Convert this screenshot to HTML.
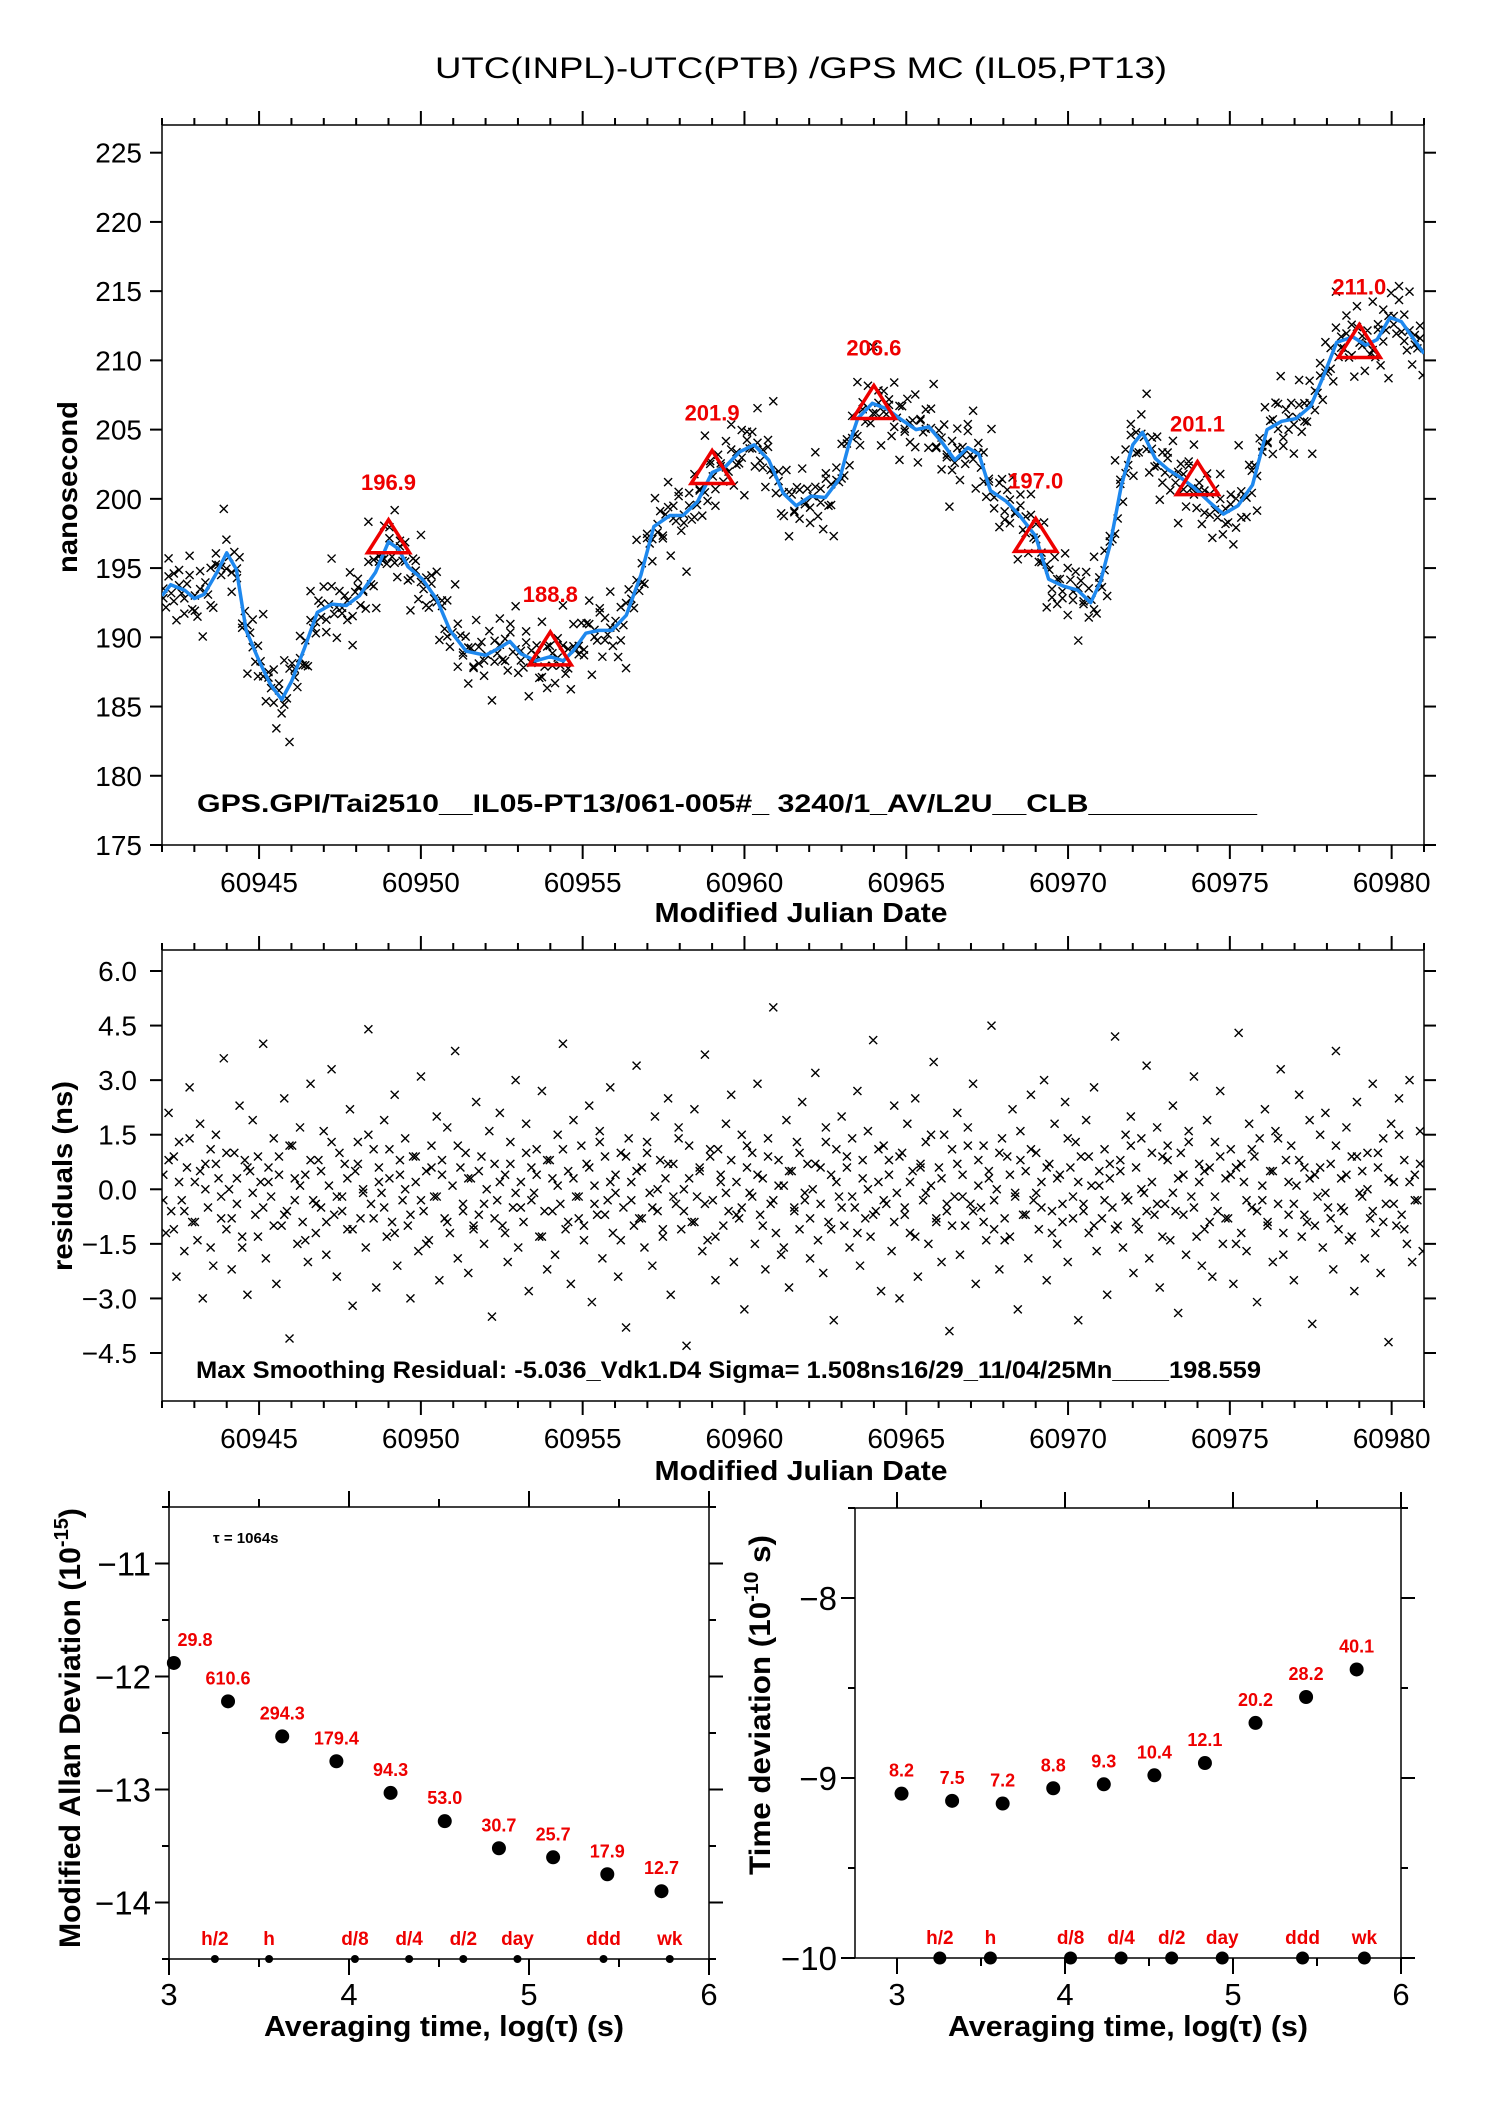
<!DOCTYPE html>
<html><head><meta charset="utf-8">
<style>
html,body{margin:0;padding:0;background:#fff;}
svg{display:block;font-family:"Liberation Sans",Arial,sans-serif;}
</style></head>
<body>
<svg id="chart" xmlns="http://www.w3.org/2000/svg" width="1488" height="2105" viewBox="0 0 1488 2105">
<rect x="0" y="0" width="1488" height="2105" fill="#fff"/>
<text x="801" y="78" font-size="30" text-anchor="middle" textLength="732" lengthAdjust="spacingAndGlyphs">UTC(INPL)-UTC(PTB)  /GPS  MC  (IL05,PT13)</text>
<g id="g1"></g>
<g id="g2"></g>
<g id="g3"></g>
<g id="g4"></g>
</svg>
<script>
// ---------- data ----------
const smoothT = [60942.0,60942.27,60942.7,60943.0,60943.3,60943.7,60944.0,60944.3,60944.6,60945.0,60945.35,60945.7,60946.0,60946.4,60946.8,60947.25,60947.7,60948.1,60948.6,60949.0,60949.3,60949.6,60950.05,60950.5,60950.9,60951.4,60952.0,60952.4,60952.75,60953.1,60953.55,60954.0,60954.4,60954.7,60955.1,60955.5,60955.9,60956.35,60956.8,60957.2,60957.7,60958.1,60958.55,60959.0,60959.4,60959.85,60960.3,60960.75,60961.2,60961.6,60962.05,60962.5,60962.95,60963.2,60963.5,60963.95,60964.4,60964.8,60965.3,60965.7,60966.1,60966.5,60966.9,60967.25,60967.6,60968.1,60968.5,60969.0,60969.4,60969.85,60970.3,60970.7,60971.0,60971.3,60971.65,60972.0,60972.3,60972.7,60973.1,60973.5,60973.9,60974.4,60974.8,60975.25,60975.7,60976.15,60976.6,60977.05,60977.5,60977.9,60978.3,60978.8,60979.2,60979.55,60979.95,60980.3,60981.0];
const smoothV = [193.0,193.8,193.4,192.8,193.1,194.7,196.1,194.9,190.5,188.3,186.6,185.5,186.8,189.2,191.8,192.4,192.3,193.0,194.7,196.9,196.4,195.1,194.2,192.7,190.5,189.0,188.7,189.2,189.7,188.8,188.3,188.6,188.3,189.0,190.3,190.5,190.5,191.6,194.5,198.0,198.8,198.8,199.8,201.9,202.3,203.4,203.9,202.8,200.4,199.5,200.2,200.1,201.5,203.7,205.8,206.9,206.5,205.8,205.0,205.2,204.1,202.8,203.7,203.2,200.6,199.8,198.8,197.3,194.2,193.7,193.4,192.5,194.0,196.7,201.0,203.9,204.8,202.9,202.1,201.5,200.8,199.7,198.9,199.5,201.0,205.0,205.6,205.8,206.7,208.9,211.3,211.7,211.1,211.5,213.1,212.8,210.5];
const triT = [60949,60954,60959,60964,60969,60974,60979];
const triV = [196.9,188.8,201.9,206.6,197.0,201.1,211.0];
const residuals = [
0.4,-1.2,2.1,-0.6,0.9,-2.4,1.3,-0.3,-1.7,0.6,2.8,-0.9,0.2,-1.4,1.8,-3.0,0.7,-0.5,1.1,-2.1,
1.5,0.3,-0.8,3.6,-1.1,0.0,-2.2,1.0,-0.4,2.3,-1.6,0.8,-2.9,0.5,1.9,-0.7,-1.3,0.2,4.0,-1.9,
0.6,-0.2,1.4,-2.6,0.9,-1.0,2.5,-0.6,-4.1,1.2,0.3,-1.5,1.7,-0.9,0.4,-2.0,2.9,-0.3,-1.2,0.8,
-0.5,1.6,-1.8,0.1,3.3,-0.7,-2.4,1.0,-0.2,0.7,-1.1,2.2,-3.2,0.5,1.3,-0.8,0.0,-1.6,4.4,-0.4,
1.1,-2.7,0.6,-0.1,1.9,-1.3,0.3,-0.9,2.6,-2.1,0.8,-0.3,1.4,-1.0,-3.0,0.9,0.2,-1.7,3.1,-0.6,
0.5,-1.4,1.2,-0.2,2.0,-2.5,0.4,-0.8,1.7,-1.2,0.1,3.8,-1.9,0.6,-0.4,1.0,-2.3,0.3,-1.1,2.4,
-0.7,0.9,-1.5,0.0,1.6,-3.5,0.7,-0.3,2.1,-1.0,0.4,-2.0,1.3,-0.5,3.0,-1.6,0.2,-0.9,1.8,-2.8,
0.6,-0.1,1.1,-1.3,2.7,-0.6,-2.2,0.8,0.3,-1.8,1.5,-0.4,4.0,-1.1,0.5,-2.6,1.9,-0.2,-0.8,1.2,
-1.4,0.7,2.3,-3.1,0.1,-0.7,1.6,-1.9,0.9,-0.3,2.8,-1.2,0.4,-2.4,1.0,-0.5,-3.8,1.4,0.2,-1.0,
3.4,-0.8,0.6,-1.6,1.3,-0.1,-2.1,2.0,-0.6,0.8,-1.3,0.3,2.5,-2.9,0.7,-0.4,1.7,-1.1,0.0,-4.3,
1.2,-0.9,2.2,-0.2,0.5,-1.7,3.7,-1.4,0.9,-0.3,-2.5,1.1,0.4,-1.0,1.8,-0.6,2.6,-2.0,0.2,-0.8,
1.5,-3.3,0.6,-0.1,1.0,-1.5,2.9,-0.7,0.3,-2.2,1.4,-0.4,5.0,-1.2,0.8,-1.8,0.1,1.9,-2.7,0.5,
-0.5,1.3,-1.1,2.4,-0.3,0.7,-1.9,0.0,3.2,-1.4,0.6,-2.3,1.7,-0.9,0.4,-3.6,1.1,-0.2,2.0,-1.0,
0.9,-1.6,1.4,-0.5,2.7,-2.1,0.3,-0.8,1.6,-1.3,4.1,-0.6,0.2,-2.8,1.2,-0.4,0.8,-1.7,2.3,-0.1,
-3.0,1.0,-0.7,1.8,-1.2,0.5,2.5,-2.4,0.7,-0.3,1.3,-1.5,0.1,3.5,-0.9,0.6,-2.0,1.5,-0.6,-3.9,
1.1,-0.2,2.1,-1.8,0.4,-1.0,1.7,-0.4,2.9,-2.6,0.8,-0.5,1.2,-1.4,0.3,4.5,-1.1,0.0,-2.2,1.4,
-0.8,0.9,-1.3,2.2,-0.1,-3.3,1.6,-0.7,0.5,-1.9,2.6,-0.3,1.0,-1.1,0.2,3.0,-2.5,0.7,-0.6,1.8,
-1.5,0.4,-0.9,2.4,-2.0,0.6,-0.2,1.3,-3.6,0.9,-0.4,1.9,-1.2,0.1,2.8,-1.7,0.5,-0.8,1.1,-2.9,
0.3,-0.5,4.2,-1.0,0.8,-1.6,1.5,-0.3,2.0,-2.3,0.6,-1.1,1.4,-0.1,3.4,-1.9,0.2,-0.7,1.7,-2.7,
0.9,-0.4,1.2,-1.4,2.3,-0.6,-3.4,1.0,0.4,-1.8,1.6,-0.2,3.1,-1.3,0.7,-2.1,0.5,1.9,-0.9,-2.4,
1.3,-0.6,2.7,-1.5,0.3,-0.8,1.1,-2.6,0.6,4.3,-1.2,0.2,-1.7,1.8,-0.5,0.9,-3.1,1.4,-0.3,2.2,
-1.0,0.5,-2.0,1.6,-0.4,3.3,-1.8,0.8,-0.7,1.2,-2.5,0.1,2.6,-1.3,0.6,-0.9,1.9,-3.7,0.4,-0.2,
1.5,-1.6,2.1,-0.5,0.7,-2.2,3.8,-1.1,0.3,-0.6,1.7,-1.4,0.9,-2.8,2.4,-0.1,0.5,-1.9,1.0,-0.8,
2.9,-1.2,0.6,-2.3,1.4,-0.4,-4.2,1.8,0.2,-1.0,2.5,-0.7,0.8,-1.5,3.0,-2.0,0.4,-0.3,1.6,-1.7];
const residualsB = [
-0.3,0.8,-1.1,0.2,-0.6,1.4,-0.9,0.5,0.0,-1.6,0.7,-0.2,1.0,-0.8,0.3,-1.3,0.6,-0.1,0.9,-0.5,
0.2,-1.0,0.4,-0.7,1.2,-0.3,0.1,-1.4,0.8,-0.4,0.5,-0.9,1.3,-0.2,-0.6,0.3,-1.1,0.7,-0.1,1.5,
-0.8,0.2,-0.5,1.1,-1.2,0.4,0.0,-0.7,0.9,-0.3,-1.5,0.6,-0.2,0.8,-0.9,0.1,1.2,-0.6,0.3,-1.0,
0.5,-0.4,1.6,-0.8,0.2,-1.2,0.7,-0.1,-0.5,1.0,-0.3,0.4,-1.3,0.8,-0.6,0.1,1.1,-0.9,0.3,-0.2,
-1.0,0.6,-0.4,1.3,-0.7,0.2,-0.1,-1.4,0.9,-0.3,0.5,-0.8,1.0,-0.5,0.0,-1.1,0.7,-0.2,1.4,-0.6,
0.3,-0.9,0.6,-0.4,1.1,-1.3,0.2,-0.1,0.8,-0.7,-0.5,1.2,-0.2,0.4,-1.0,0.9,-0.3,0.1,-1.6,0.5,
-0.6,1.0,-0.1,-0.8,0.7,-0.4,1.3,-1.1,0.2,-0.5,0.6,-0.2,-1.2,0.8,0.0,-0.7,1.1,-0.3,0.4,-0.9,
0.9,-0.5,0.2,-1.3,0.6,-0.1,1.5,-0.8,0.3,-0.4,-1.0,0.7,-0.2,1.2,-0.6,0.1,-0.9,0.5,-0.3,1.0,
-1.4,0.4,-0.2,0.8,-0.7,1.1,-0.1,-0.5,0.6,-1.2,0.3,-0.4,1.4,-0.8,0.2,-0.6,0.9,-1.0,0.1,-0.3,
0.7,-1.1,0.5,-0.2,1.2,-0.9,0.0,-0.6,1.0,-0.4,-1.3,0.8,-0.1,0.3,-0.7,1.3,-0.5,0.2,-1.1,0.6,
-0.2,0.9,-0.8,0.4,-1.5,0.7,-0.3,1.1,-0.6,0.1,-0.9,0.5,1.4,-1.2,0.2,-0.4,0.8,-0.7,0.3,-1.0,
0.6,-0.1,-0.8,1.2,-0.5,0.4,-1.3,0.9,-0.2,0.0,-0.6,1.0,-0.9,0.3,-0.4,1.5,-1.1,0.2,-0.3,0.7];
const mdevLog = [3.027,3.328,3.629,3.930,4.231,4.532,4.833,5.134,5.435,5.736];
const mdevVal = [-11.88,-12.22,-12.53,-12.75,-13.03,-13.28,-13.52,-13.60,-13.75,-13.90];
const mdevLab = ["29.8","610.6","294.3","179.4","94.3","53.0","30.7","25.7","17.9","12.7"];
const tdevLog = [3.027,3.328,3.629,3.930,4.231,4.532,4.833,5.134,5.435,5.736];
const tdevVal = [-9.087,-9.127,-9.142,-9.057,-9.035,-8.985,-8.917,-8.694,-8.550,-8.397];
const tdevLab = ["8.2","7.5","7.2","8.8","9.3","10.4","12.1","20.2","28.2","40.1"];
const markLog = [3.255,3.556,4.033,4.334,4.635,4.936,5.414,5.782];
const markLab = ["h/2","h","d/8","d/4","d/2","day","ddd","wk"];
const xTicksMJD = [60945,60950,60955,60960,60965,60970,60975,60980];
const yTicksTop = [175,180,185,190,195,200,205,210,215,220,225];
const yTicksRes = [-4.5,-3.0,-1.5,0.0,1.5,3.0,4.5,6.0];

// ---------- helpers ----------
const NS="http://www.w3.org/2000/svg";
function el(parent,tag,attrs){const e=document.createElementNS(NS,tag);for(const k in attrs)e.setAttribute(k,attrs[k]);parent.appendChild(e);return e;}
function lin(d0,d1,p0,p1){return v=>p0+(v-d0)*(p1-p0)/(d1-d0);}
function fmtMinus(s){return s.replace('-','\u2212');}
function crossPath(pts){let d='';pts.forEach(p=>{const x=p[0],y=p[1];d+=`M${x-4} ${y-4}L${x+4} ${y+4}M${x-4} ${y+4}L${x+4} ${y-4}`;});return d;}
function samples(){
  const out=[];
  residuals.forEach((r,i)=>out.push([60942+(i+0.5)*39/residuals.length,r]));
  residualsB.forEach((r,i)=>out.push([60942+(i+0.25)*39/residualsB.length,r]));
  return out;
}

// ---------- plot 1: time series ----------
(function(){
  const g=document.getElementById('g1');
  const L=162,R=1424,T=125,B=845;
  const X=lin(60942,60981,L,R), Y=lin(175,227,B,T);
  let f=el(g,'rect',{x:L,y:T,width:R-L,height:B-T,fill:'none',stroke:'#000','stroke-width':1.5});
  
  
  for(let d=60942;d<=60981;d++){
    const maj=(d%5===0), len=maj?14:7, x=X(d);
    el(g,'line',{x1:x,y1:B,x2:x,y2:B+len,stroke:'#000','stroke-width':2});
    el(g,'line',{x1:x,y1:T,x2:x,y2:T-len,stroke:'#000','stroke-width':2});
  }
  yTicksTop.forEach(v=>{
    const y=Y(v);
    el(g,'line',{x1:L-12,y1:y,x2:L,y2:y,stroke:'#000','stroke-width':2});
    el(g,'line',{x1:R,y1:y,x2:R+12,y2:y,stroke:'#000','stroke-width':2});
    const t=el(g,'text',{x:L-20,y:y+10,'font-size':28,'text-anchor':'end'});
    
    
    t.textContent=String(v);
  });
  xTicksMJD.forEach(v=>{
    const t=el(g,'text',{x:X(v),y:B+47,'font-size':28,'text-anchor':'middle'});
    
    
    t.textContent=String(v);
  });
  const cp=el(g,'clipPath',{id:'c1'}); el(cp,'rect',{x:L,y:T,width:R-L,height:B-T});
  const pg=el(g,'g',{'clip-path':'url(#c1)'});
  
  
  function smoothAt(t){
    for(let i=0;i<smoothT.length-1;i++){ if(t<=smoothT[i+1]){const a=(t-smoothT[i])/(smoothT[i+1]-smoothT[i]);return smoothV[i]+a*(smoothV[i+1]-smoothV[i]);} }
    return smoothV[smoothV.length-1];
  }
  const pts=samples().map(s=>[X(s[0]),Y(smoothAt(s[0])+s[1])]);
  el(pg,'path',{d:crossPath(pts),stroke:'#000','stroke-width':1.4,fill:'none'});
  let sd=''; smoothT.forEach((t,i)=>{sd+=(i?'L':'M')+X(t)+' '+Y(smoothV[i]);});
  const sl=el(pg,'path',{d:sd,stroke:'#1e88ee','stroke-width':3.5,fill:'none','stroke-linejoin':'round'});
  
  
  triT.forEach((t,i)=>{
    const x=X(t), y=Y(triV[i]);
    const p=el(g,'polygon',{points:`${x},${y-22} ${x-21},${y+11} ${x+21},${y+11}`,fill:'none',stroke:'#ee0000','stroke-width':3.5});
    
    
    const lb=el(g,'text',{x:x,y:y-52,'font-size':22,'font-weight':'bold','text-anchor':'middle',fill:'#ee0000'});
    
    
    lb.textContent=triV[i].toFixed(1);
  });
  const an=el(g,'text',{x:197,y:812,'font-size':25,'font-weight':'bold',textLength:1060,lengthAdjust:'spacingAndGlyphs'});
  
  
  an.textContent='GPS.GPI/Tai2510__IL05-PT13/061-005#_  3240/1_AV/L2U__CLB__________';
  const yl=el(g,'text',{x:0,y:0,'font-size':28,'font-weight':'bold','text-anchor':'middle',transform:'translate(77,487) rotate(-90)',textLength:172,lengthAdjust:'spacingAndGlyphs'});
  
  
  yl.textContent='nanosecond';
  const xl=el(g,'text',{x:801,y:922,'font-size':28,'font-weight':'bold','text-anchor':'middle',textLength:293,lengthAdjust:'spacingAndGlyphs'});
  
  
  xl.textContent='Modified Julian Date';
})();

// ---------- plot 2: residuals ----------
(function(){
  const g=document.getElementById('g2');
  const L=162,R=1424,T=950,B=1401;
  const X=lin(60942,60981,L,R), Y=lin(-4.5,6.0,1353,971);
  let f=el(g,'rect',{x:L,y:T,width:R-L,height:B-T,fill:'none',stroke:'#000','stroke-width':1.5});
  
  
  for(let d=60942;d<=60981;d++){
    const maj=(d%5===0), len=maj?14:7, x=X(d);
    el(g,'line',{x1:x,y1:B,x2:x,y2:B+len,stroke:'#000','stroke-width':2});
    el(g,'line',{x1:x,y1:T,x2:x,y2:T-len,stroke:'#000','stroke-width':2});
  }
  yTicksRes.forEach(v=>{
    const y=Y(v);
    el(g,'line',{x1:L-12,y1:y,x2:L,y2:y,stroke:'#000','stroke-width':2});
    el(g,'line',{x1:R,y1:y,x2:R+12,y2:y,stroke:'#000','stroke-width':2});
    const t=el(g,'text',{x:L-25,y:y+10,'font-size':28,'text-anchor':'end'});
    
    
    t.textContent=fmtMinus(v.toFixed(1));
  });
  xTicksMJD.forEach(v=>{
    const t=el(g,'text',{x:X(v),y:1448,'font-size':28,'text-anchor':'middle'});
    
    
    t.textContent=String(v);
  });
  const cp=el(g,'clipPath',{id:'c2'}); el(cp,'rect',{x:L,y:T,width:R-L,height:B-T});
  const pg=el(g,'g',{'clip-path':'url(#c2)'});
  
  
  const pts=samples().map(s=>[X(s[0]),Y(s[1])]);
  el(pg,'path',{d:crossPath(pts),stroke:'#000','stroke-width':1.4,fill:'none'});
  const an=el(g,'text',{x:196,y:1378,'font-size':24,'font-weight':'bold',textLength:1065,lengthAdjust:'spacingAndGlyphs'});
  
  
  an.textContent='Max Smoothing Residual: -5.036_Vdk1.D4  Sigma= 1.508ns16/29_11/04/25Mn____198.559';
  const yl=el(g,'text',{x:0,y:0,'font-size':28,'font-weight':'bold','text-anchor':'middle',transform:'translate(72,1176) rotate(-90)',textLength:190,lengthAdjust:'spacingAndGlyphs'});
  
  
  yl.textContent='residuals (ns)';
  const xl=el(g,'text',{x:801,y:1480,'font-size':28,'font-weight':'bold','text-anchor':'middle',textLength:293,lengthAdjust:'spacingAndGlyphs'});
  
  
  xl.textContent='Modified Julian Date';
})();

// ---------- stability plots ----------
function stabPlot(g,L,R,T,B,xmin,xmax,ymin,ymax,yMajor,logs,vals,labs,bigMarks,ytitle,ysup,ytail,ytx,yty,ylen,xtitleX){
  const X=lin(xmin,xmax,L,R), Y=lin(ymin,ymax,B,T);
  let f=el(g,'rect',{x:L,y:T,width:R-L,height:B-T,fill:'none',stroke:'#000','stroke-width':1.5});
  
  
  for(let k=6;k<=12;k++){
    const v=k/2; if(v<xmin-1e-6||v>xmax+1e-6) continue;
    const x=X(v), len=(k%2===0)?16:8;
    el(g,'line',{x1:x,y1:B,x2:x,y2:B+len,stroke:'#000','stroke-width':2});
    el(g,'line',{x1:x,y1:T,x2:x,y2:T-len,stroke:'#000','stroke-width':2});
    if(k%2===0){
      const t=el(g,'text',{x:x,y:2005,'font-size':31,'text-anchor':'middle'});
      
      
      t.textContent=String(v);
    }
  }
  for(let v=Math.ceil(ymin*2)/2; v<=ymax+1e-6; v+=0.5){
    const y=Y(v), maj=Math.abs(v-Math.round(v))<1e-6, len=maj?14:7;
    el(g,'line',{x1:L-len,y1:y,x2:L,y2:y,stroke:'#000','stroke-width':2});
    el(g,'line',{x1:R,y1:y,x2:R+len,y2:y,stroke:'#000','stroke-width':2});
    if(maj && yMajor.indexOf(Math.round(v))>=0){
      const t=el(g,'text',{x:L-18,y:y+12,'font-size':33,'text-anchor':'end'});
      
      
      t.textContent=fmtMinus(String(Math.round(v)));
    }
  }
  logs.forEach((lv,i)=>{
    const x=X(lv), y=Y(vals[i]);
    const c=el(g,'circle',{cx:x,cy:y,r:7,fill:'#000'});
    
    
    const lb=el(g,'text',{x:Math.max(x,L+26),y:y-17,'font-size':18,'font-weight':'bold','text-anchor':'middle',fill:'#ee0000'});
    
    
    lb.textContent=labs[i];
  });
  markLog.forEach((lv,i)=>{
    const x=X(lv);
    const c=el(g,'circle',{cx:x,cy:B,r:bigMarks?6.5:4,fill:'#000'});
    
    
    const lb=el(g,'text',{x:x,y:B-14,'font-size':19,'font-weight':'bold','text-anchor':'middle',fill:'#ee0000'});
    
    
    lb.textContent=markLab[i];
  });
  const yl=el(g,'text',{x:0,y:0,'font-size':30,'font-weight':'bold','text-anchor':'middle',transform:`translate(${ytx},${yty}) rotate(-90)`,textLength:ylen,lengthAdjust:'spacingAndGlyphs'});
  
  
  yl.appendChild(document.createTextNode(ytitle));
  const s=el(yl,'tspan',{dy:-12,'font-size':20}); s.textContent=ysup;
  const s2=el(yl,'tspan',{dy:12}); s2.textContent=ytail;
  const xl=el(g,'text',{x:xtitleX,y:2036,'font-size':29,'font-weight':'bold','text-anchor':'middle',textLength:360,lengthAdjust:'spacingAndGlyphs'});
  
  
  xl.textContent='Averaging time, log(\u03C4) (s)';
}
stabPlot(document.getElementById('g3'),169,709,1507,1959,3,6,-14.5,-10.5,[-11,-12,-13,-14],mdevLog,mdevVal,mdevLab,false,'Modified Allan Deviation (10','-15',')',80,1728,440,444);
stabPlot(document.getElementById('g4'),855,1401,1508,1958,2.75,6,-10,-7.5,[-8,-9,-10],tdevLog,tdevVal,tdevLab,true,'Time deviation (10','-10',' s)',770,1705,340,1128);
(function(){
  const t=el(document.getElementById('g3'),'text',{x:213,y:1543,'font-size':15,'font-weight':'bold'});
  
  
  t.textContent='\u03C4 = 1064s';
})();
</script>
</body></html>
